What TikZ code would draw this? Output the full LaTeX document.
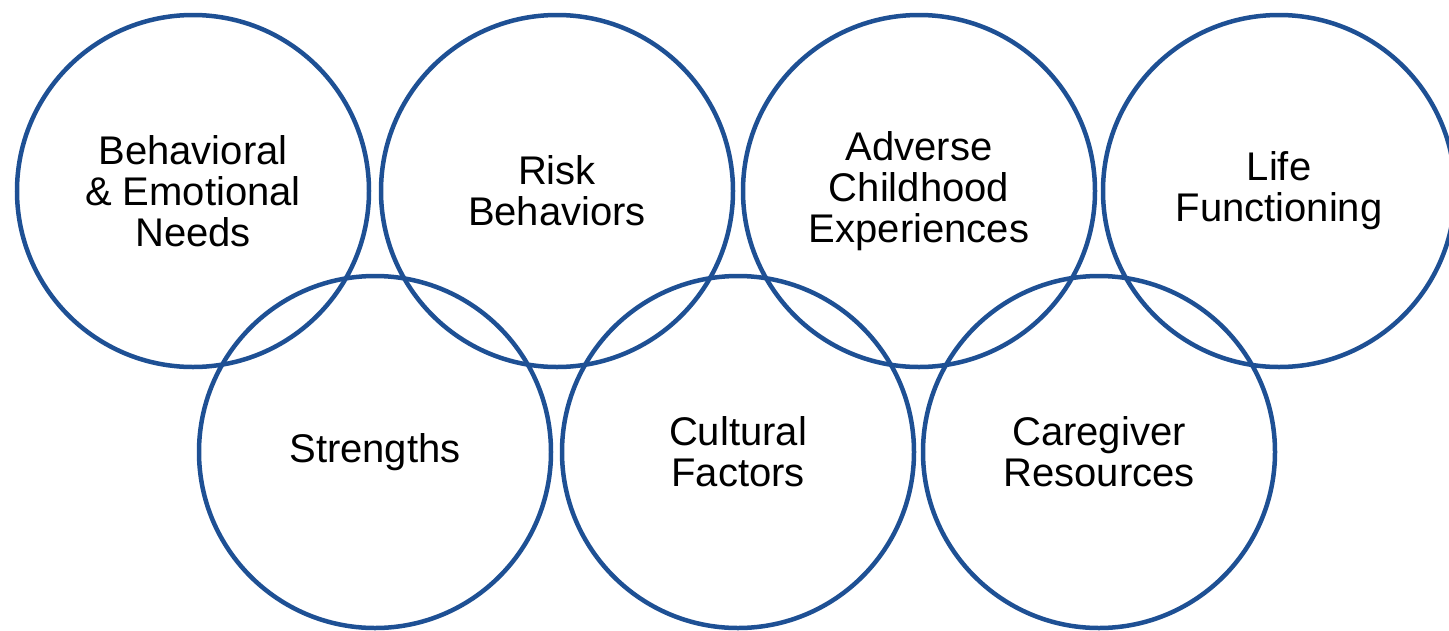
\documentclass[tikz,border=0pt]{standalone}
\usepackage{fontspec}
\setmainfont{Liberation Sans}
\definecolor{ringblue}{RGB}{30,80,148}
\begin{document}
\begin{tikzpicture}[x=1pt,y=-1pt,
  ring/.style={circle,draw=ringblue,line width=4.5pt,minimum size=352pt,inner sep=0pt,
    align=center,font=\fontsize{40pt}{41pt}\selectfont,text=black}]
\useasboundingbox (0,0) rectangle (1449,630);
\node[ring] (ben) at (193,191) {Behavioral\\\& Emotional\\Needs};
\node[ring] (risk) at (557,191) {Risk\\Behaviors};
\node[ring] (ace) at (919,191) {Adverse\\Childhood\\Experiences};
\node[ring] (life) at (1279,191) {Life\\Functioning};
\node[ring] (str) at (375,452) {Strengths};
\node[ring] (cult) at (738,452) {Cultural\\Factors};
\node[ring] (care) at (1099,452) {Caregiver\\Resources};
\end{tikzpicture}
\end{document}
